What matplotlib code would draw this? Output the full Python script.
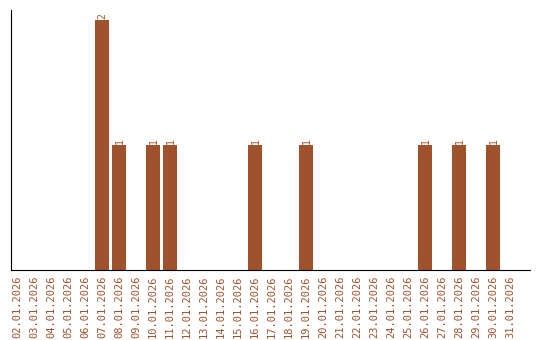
import matplotlib.pyplot as plt

dates = ["%02d.01.2026" % d for d in range(2, 32)]
counts = [0, 0, 0, 0, 0, 2, 1, 0, 1, 1, 0, 0, 0, 0, 1, 0, 0, 1, 0, 0, 0, 0, 0, 0, 1, 0, 1, 0, 1, 0]

color = "#A0522D"

fig = plt.figure(figsize=(5.4, 3.4), dpi=100)
ax = fig.add_axes([11 / 540, 70 / 340, 519 / 540, 260 / 340])

x = range(len(dates))
bars = ax.bar(x, counts, width=0.82, color=color)
for xi, c in zip(x, counts):
    if c > 0:
        ax.text(xi + 0.05, c + 0.01, str(c), rotation=90, ha="center", va="bottom",
                fontsize=7, color=color, family="DejaVu Sans Mono")

ax.set_xlim(-0.35, len(dates) - 1 + 1.18)
ax.set_ylim(0, 2.08)
ax.set_xticks(list(x))
ax.set_xticklabels(dates, rotation=90, fontsize=7.5, color=color, family="DejaVu Sans Mono")
ax.tick_params(axis="x", length=0, pad=4)
ax.set_yticks([])
ax.spines["top"].set_visible(False)
ax.spines["right"].set_visible(False)

fig.savefig("out.png", dpi=100)
